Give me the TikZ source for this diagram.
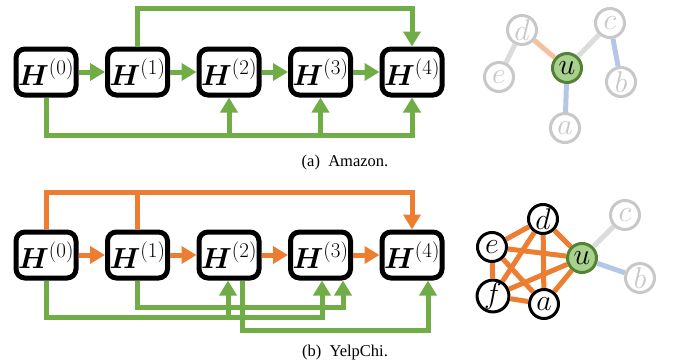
\RequirePackage{fix-cm}
\documentclass[tikz,border=0pt]{standalone}
\usepackage{amsmath}
\usepackage{amssymb}
\usepackage{bm}
\usepackage{fontspec}
\usepackage{tikz}
\usetikzlibrary{arrows.meta}

\newfontfamily\capfont{Liberation Serif}

\definecolor{skipgreen}{HTML}{70AD47}
\definecolor{skiporange}{HTML}{ED7D31}
\definecolor{ufill}{HTML}{A9D18E}
\definecolor{udraw}{HTML}{548235}
\definecolor{faded}{HTML}{C8C8C8}
\definecolor{fadededge}{HTML}{DCDCDC}
\definecolor{peach}{HTML}{F4C09E}
\definecolor{paleblue}{HTML}{B4C7E7}

% layer output with a large superscript
\newcommand{\layerout}[1]{$\bm{H}^{\text{\fontsize{21}{21}\selectfont(#1)}}$}

\begin{document}
\begin{tikzpicture}[x=1pt,y=-1pt,
    hbox/.style={draw, line width=5pt, rounded corners=9pt, fill=white,
        minimum width=60pt, minimum height=46pt, inner sep=0pt,
        font=\fontsize{29}{29}\selectfont},
    gskip/.style={skipgreen, line width=5pt, -{Triangle[length=15pt,width=17pt]}},
    oskip/.style={skiporange, line width=5pt, -{Triangle[length=15pt,width=17pt]}},
    vert/.style={circle, line width=3pt, minimum size=29pt, inner sep=0pt,
        font=\fontsize{30}{30}\selectfont},
    gone/.style={vert, draw=faded, text=faded, fill=white},
    kept/.style={vert, draw=black, fill=white},
    target/.style={vert, draw=udraw, fill=ufill},
    edge/.style={line width=5pt},
    caption/.style={font=\capfont\fontsize{16.5}{19}\selectfont}]
    \useasboundingbox (0,0) rectangle (673,362);

    % Amazon: layer outputs
    \foreach \i/\x in {0/46,1/137.5,2/229,3/320.5,4/412}
        \node[hbox] (h\i) at (\x,72) {\layerout{\i}};

    % Amazon: sequential layers
    \foreach \i/\j in {0/1,1/2,2/3,3/4}
        \draw[gskip] (h\i.east) -- (h\j.west);

    % Amazon: skip connections
    \coordinate (railtop) at (0,8);
    \coordinate (railbot) at (0,135);
    \draw[gskip] (h1.north) -- (h1.north |- railtop) -| (h4.north);
    \draw[gskip] (h0.south) -- (h0.south |- railbot) -| (h4.south);
    \draw[gskip] (h2.south |- railbot) -- (h2.south);
    \draw[gskip] (h3.south |- railbot) -- (h3.south);

    \node[caption] (capa) at (345,163) {(a)~~Amazon.};

    % Amazon: neighbourhood of u
    \node[gone] (ad) at (522,30) {$d$};
    \node[gone] (ac) at (610,23) {$c$};
    \node[gone] (ae) at (499,77) {$e$};
    \node[target] (au) at (567,68) {$u$};
    \node[gone] (ab) at (621,82) {$b$};
    \node[gone] (aa) at (565,128) {$a$};
    \draw[edge, fadededge] (ae) -- (ad);
    \draw[edge, fadededge] (au) -- (ac);
    \draw[edge, peach] (ad) -- (au);
    \draw[edge, paleblue] (ac) -- (ab);
    \draw[edge, paleblue] (au) -- (aa);

    % YelpChi: layer outputs
    \foreach \i/\x in {0/46,1/137.5,2/229,3/320.5,4/412}
        \node[hbox] (y\i) at (\x,255) {\layerout{\i}};

    % YelpChi: sequential layers
    \foreach \i/\j in {0/1,1/2,2/3,3/4}
        \draw[oskip] (y\i.east) -- (y\j.west);

    % YelpChi: skip connections
    \coordinate (orail) at (0,192);
    \coordinate (grail0) at (0,317);
    \coordinate (grail1) at (0,307);
    \coordinate (grail2) at (0,330);
    \draw[oskip] (y0.north) -- (y0.north |- orail) -| (y4.north);
    \draw[skiporange, line width=5pt] (y1.north) -- (y1.north |- orail);
    \draw[gskip] (y0.south) -- (y0.south |- grail0) -| ([xshift=1.5pt]y3.south);
    \draw[gskip] ([xshift=-1pt]y2.south |- grail0) -- ([xshift=-1pt]y2.south);
    \draw[gskip] (y1.south) -- (y1.south |- grail1) -| ([xshift=22.5pt]y3.south);
    \draw[gskip] ([xshift=13pt]y2.south) -- ([xshift=13pt]y2.south |- grail2)
        -| ([xshift=16pt]y4.south);

    \node[caption] (capb) at (345,353) {(b)~~YelpChi.};

    % YelpChi: neighbourhood of u
    \node[kept] (yd) at (543,219) {$d$};
    \node[gone] (yc) at (625,215) {$c$};
    \node[kept] (ye) at (492,247) {$e$};
    \node[target] (yu) at (582,258) {$u$};
    \node[gone] (yb) at (640,278) {$b$};
    \node[kept] (yf) at (493,296) {$f$};
    \node[kept] (ya) at (544,304) {$a$};
    \draw[edge, fadededge] (yu) -- (yc);
    \draw[edge, paleblue] (yu) -- (yb);
    \foreach \s/\t in {ye/yd,yd/yu,yu/ya,ya/yf,yf/ye,ye/yu,ye/ya,yd/yf,yd/ya,yf/yu}
        \draw[edge, skiporange] (\s) -- (\t);
\end{tikzpicture}
\end{document}
